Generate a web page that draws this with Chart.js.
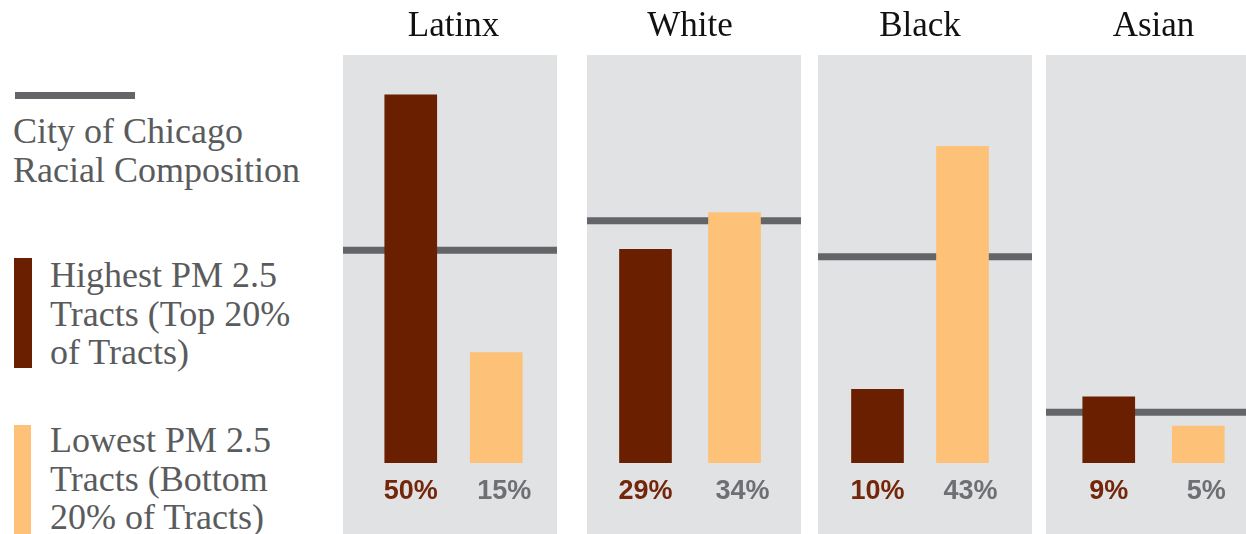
<!DOCTYPE html>
<html>
<head>
<meta charset="utf-8">
<script src="https://cdn.jsdelivr.net/npm/chart.js@4.4.0/dist/chart.umd.min.js"></script>
<style>
  html, body { margin: 0; padding: 0; background: #fff; }
  body { width: 1246px; height: 534px; overflow: hidden; position: relative; }
  .panel { position: absolute; top: 0; width: 214px; height: 534px; }
  .key-line { position: absolute; left: 15px; top: 92px; width: 120px; height: 7px; background: #636569; }
  .key-bar { position: absolute; left: 14px; width: 18px; }
  .key-text {
    position: absolute; font-family: 'Liberation Serif', serif; font-size: 36px;
    line-height: 38.5px; color: #5a5b5d; white-space: nowrap;
  }
</style>
</head>
<body>
<div class="key-line"></div>
<div class="key-text" style="left:13px; top:112px">City of Chicago<br>Racial Composition</div>
<div class="key-bar" style="top:258px; height:110px; background:#6a1f00"></div>
<div class="key-text" style="left:50px; top:256px">Highest PM 2.5<br>Tracts (Top 20%<br>of Tracts)</div>
<div class="key-bar" style="top:425px; height:120px; width:17px; background:#fdc177"></div>
<div class="key-text" style="left:50px; top:421px">Lowest PM 2.5<br>Tracts (Bottom<br>20% of Tracts)</div>

<script>
// share of residents in each group (%)
const groups = ['Latinx', 'White', 'Black', 'Asian'];
const tractTypes = ['Highest PM 2.5', 'Lowest PM 2.5'];
const highestTracts = [50, 29, 10, 9];
const lowestTracts = [15, 34, 43, 5];
const cityShare = [28.9, 32.9, 28.0, 6.9];

const barColors = ['#6a1f00', '#fdc177'];
const labelColors = ['#74260a', '#6e6f73'];
const labelShift = [0, 8];
const panelLeft = [343, 587, 818, 1046];
const panelPad = [[25, 18], [14, 22], [17, 27], [18, 17]];

// grey panel behind the plot area
const panelBg = {
  id: 'panelBg',
  beforeDraw(chart) {
    const { ctx, chartArea } = chart;
    ctx.save();
    ctx.fillStyle = '#e1e2e4';
    ctx.fillRect(0, chartArea.top, chart.width, chart.height - chartArea.top);
    ctx.restore();
  }
};

// city-wide share, drawn under the bars across the whole panel
const cityLine = {
  id: 'cityLine',
  beforeDatasetsDraw(chart, args, opts) {
    const y = chart.scales.y.getPixelForValue(opts.value);
    const ctx = chart.ctx;
    ctx.save();
    ctx.strokeStyle = '#636569';
    ctx.lineWidth = 7;
    ctx.beginPath();
    ctx.moveTo(0, y);
    ctx.lineTo(chart.width, y);
    ctx.stroke();
    ctx.restore();
  }
};

// percentage under each bar
const valueLabels = {
  id: 'valueLabels',
  afterDatasetsDraw(chart) {
    const ctx = chart.ctx;
    const meta = chart.getDatasetMeta(0);
    const values = chart.data.datasets[0].data;
    ctx.save();
    ctx.font = 'bold 27px "Liberation Sans", Arial, sans-serif';
    ctx.textAlign = 'center';
    ctx.textBaseline = 'alphabetic';
    meta.data.forEach((bar, j) => {
      ctx.fillStyle = labelColors[j];
      ctx.fillText(values[j] + '%', bar.x + labelShift[j], chart.chartArea.bottom + 36);
    });
    ctx.restore();
  }
};

groups.forEach((name, i) => {
  const wrap = document.createElement('div');
  wrap.className = 'panel';
  wrap.style.left = panelLeft[i] + 'px';
  const canvas = document.createElement('canvas');
  canvas.width = 214;
  canvas.height = 534;
  wrap.appendChild(canvas);
  document.body.appendChild(wrap);

  new Chart(canvas, {
    type: 'bar',
    data: {
      labels: tractTypes,
      datasets: [{
        data: [highestTracts[i], lowestTracts[i]],
        backgroundColor: barColors,
        borderWidth: 0,
        barThickness: 52
      }]
    },
    options: {
      responsive: false,
      animation: false,
      layout: { padding: { left: panelPad[i][0], right: panelPad[i][1], top: 0, bottom: 71 } },
      scales: {
        x: { display: false },
        y: { display: false, min: 0, max: 55.4 }
      },
      plugins: {
        legend: { display: false },
        tooltip: { enabled: false },
        title: {
          display: true,
          text: name,
          color: '#111',
          font: { family: 'Liberation Serif', size: 35, weight: 'normal' },
          padding: { top: 6, bottom: 7 }
        },
        cityLine: { value: cityShare[i] }
      }
    },
    plugins: [panelBg, cityLine, valueLabels]
  });
});
</script>
</body>
</html>
